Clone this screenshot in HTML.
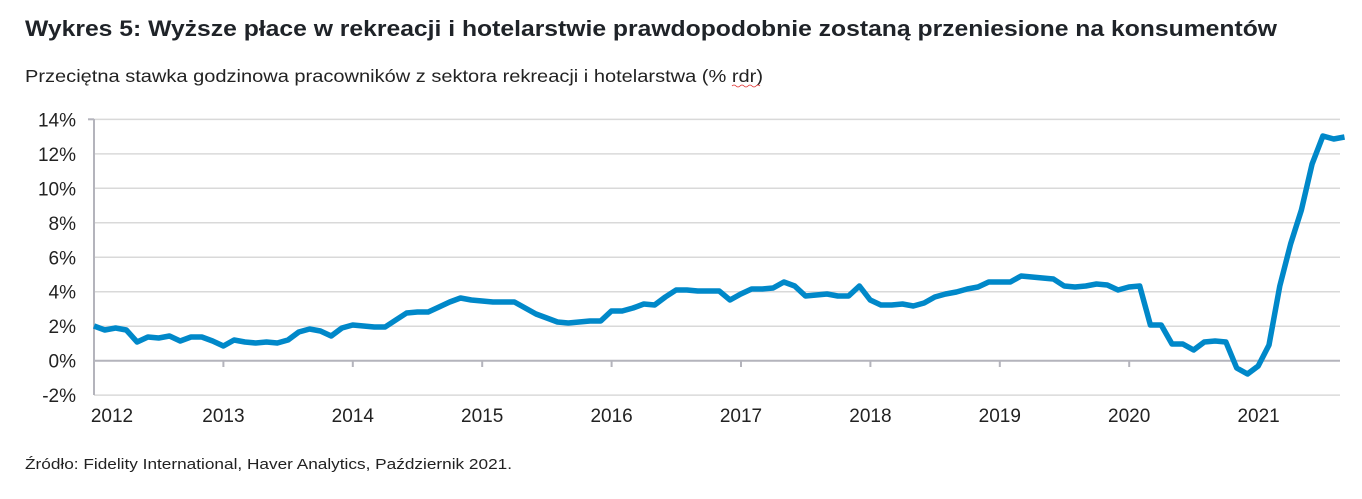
<!DOCTYPE html>
<html><head><meta charset="utf-8">
<style>
html,body{margin:0;padding:0;background:#fff;width:1362px;height:499px;overflow:hidden}
svg{display:block}
text{font-family:"Liberation Sans",Arial,sans-serif}
</style></head>
<body>
<svg id="c" width="1362" height="499" viewBox="0 0 1362 499" xmlns="http://www.w3.org/2000/svg">
<text x="25" y="36" font-size="22" font-weight="bold" fill="#1f2328" textLength="1252" lengthAdjust="spacingAndGlyphs">Wykres 5: Wyższe płace w rekreacji i hotelarstwie prawdopodobnie zostaną przeniesione na konsumentów</text>
<text x="25" y="82" font-size="17.5" fill="#222" textLength="738" lengthAdjust="spacingAndGlyphs">Przeciętna stawka godzinowa pracowników z sektora rekreacji i hotelarstwa (% rdr)</text>
<path d="M732 86 q2 -2 4 0 q2 2 4 0 q2 -2 4 0 q2 2 4 0 q2 -2 4 0 q2 2 4 0 q2 -2 4 0" stroke="#e03030" stroke-width="0.8" fill="none"/>
<g id="grid" stroke="#d9d9d9" stroke-width="1.5"></g>
<line x1="94" y1="119" x2="94" y2="395" stroke="#b4b4bc" stroke-width="2"/>
<line x1="88" y1="119.3" x2="94" y2="119.3" stroke="#b4b4bc" stroke-width="2"/>
<line x1="94" y1="360.7" x2="1340" y2="360.7" stroke="#b4b4bc" stroke-width="2"/>
<g id="yl" font-size="19" fill="#222" text-anchor="end"></g>
<g id="xl" font-size="19" fill="#222" text-anchor="middle"></g>
<polyline id="ln" fill="none" stroke="#0088c9" stroke-width="5.5" stroke-linejoin="round"/>
<text x="25" y="469" font-size="15" fill="#222" textLength="487" lengthAdjust="spacingAndGlyphs">Źródło: Fidelity International, Haver Analytics, Październik 2021.</text>
</svg>
<script>
var ns="http://www.w3.org/2000/svg";
function el(t,a,p,txt){var e=document.createElementNS(ns,t);for(var k in a)e.setAttribute(k,a[k]);if(txt!=null)e.textContent=txt;document.getElementById(p).appendChild(e);}
function Y(v){return 360.7-17.24*v;}
for(var v=14;v>=-2;v-=2){ if(v!==0) el("line",{x1:94,x2:1340,y1:Y(v),y2:Y(v)},"grid");
 el("text",{x:76,y:Y(v)+7},"yl",v+"%");}
var x0=94,dx=129.4;
for(var i=0;i<10;i++){var x=x0+dx*i;
 if(i>0) el("line",{x1:x,x2:x,y1:360.7,y2:367,stroke:"#b4b4bc","stroke-width":2},"grid");
 el("text",{x:x+(i==0?18:0),y:422},"xl",String(2012+i));}
var d=[326,330,328,330,342,337,338,336,341,337,337,341,
346,340,342,343,342,343,340,332,329,331,336,328,
325,326,327,327,320,313,312,312,307,302,298,300,
301,302,302,302,308,314,318,322,323,322,321,321,
311,311,308,304,305,297,290,290,291,291,291,300,
294,289,289,288,282,286,296,295,294,296,296,286,
300,305,305,304,306,303,297,294,292,289,287,282,
282,282,276,277,278,279,286,287,286,284,285,290,
287,286,325,325,344,344,350,342,341,342,368,374,
366,345,286,244,210,164,136,139,137];
var pts=d.map(function(y,i){return (94+i*10.78).toFixed(1)+","+y;}).join(" ");
document.getElementById("ln").setAttribute("points",pts);
</script>
</body></html>
